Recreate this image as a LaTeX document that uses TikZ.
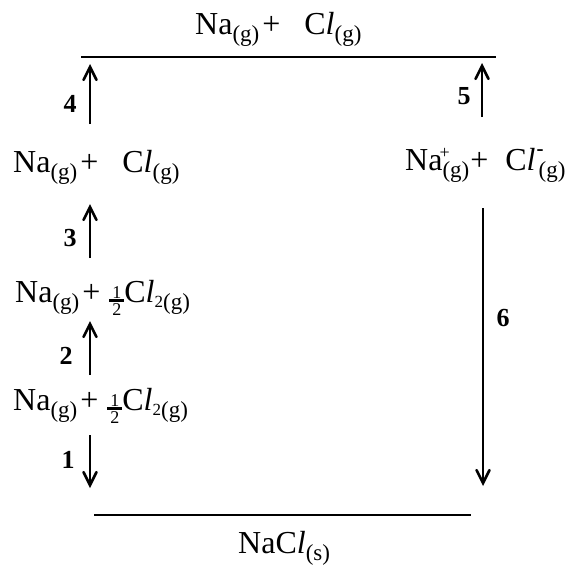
\documentclass[tikz,border=0pt]{standalone}
\usepackage{fontspec}
\setmainfont{Liberation Serif}
\usetikzlibrary{arrows.meta}
\newcommand\dn[1]{\raisebox{-7.5pt}{\fontsize{23}{23}\selectfont #1}}
\newcommand\smsub[1]{\raisebox{-5pt}{\fontsize{17}{17}\selectfont #1}}
\newcommand\hlf{\raisebox{-13pt}{\vbox{\offinterlineskip\hbox to 15pt{\hss\fontsize{18}{18}\selectfont 1\hss}\kern1pt\hrule height 2.2pt\kern1.5pt\hbox to 15pt{\hss\fontsize{18}{18}\selectfont 2\hss}}}}
\newcommand\supplus{\rlap{\kern-3pt\raisebox{12pt}{\fontsize{18}{18}\selectfont +}}}
\newcommand\supminus{\rlap{\raisebox{15pt}{\fontsize{21}{21}\selectfont\bfseries -}}}
\begin{document}
\begin{tikzpicture}[x=1pt,y=-1pt,
  chem/.style={inner sep=0pt,anchor=base west,font=\fontsize{32}{32}\selectfont},
  num/.style={inner sep=0pt,font=\fontsize{26}{26}\selectfont\bfseries},
  level/.style={line width=2.8pt},
  step arrow/.style={line width=2.6pt,-{Straight Barb[length=13pt,width=13pt,line cap=round]}}]
\useasboundingbox (0,0) rectangle (570,565);
% levels
\coordinate (tl) at (81,57);
\coordinate (tr) at (496,57);
\coordinate (bl) at (94,515);
\coordinate (br) at (471,515);
\draw[level] (tl) -- (tr);
\draw[level,line width=2.5pt] (bl) -- (br);
% texts
\node[chem] (top) at (195,34) {Na\dn{(g)}\kern3pt+\kern24pt C\textit{l}\dn{(g)}};
\node[chem] (r2) at (13,172) {Na\dn{(g)}\kern3pt+\kern24pt C\textit{l}\dn{(g)}};
\node[chem] (r3) at (15,302) {Na\dn{(g)}\kern3pt+\kern9pt\hlf C\textit{l}\smsub{2}\dn{(g)}};
\node[chem] (r4) at (13,410) {Na\dn{(g)}\kern3pt+\kern9pt\hlf C\textit{l}\smsub{2}\dn{(g)}};
\node[chem] (rr) at (405,170) {Na\supplus\dn{(g)}\kern1pt+\kern17pt C\textit{l}\kern1pt\supminus\kern2pt\dn{(g)}};
\node[chem] (bot) at (238,553) {NaC\textit{l}\dn{(s)}};
% arrows
\coordinate (a4s) at (90,124); \coordinate (a4e) at (90,64);
\coordinate (a3s) at (90,258); \coordinate (a3e) at (90,204);
\coordinate (a2s) at (90,375); \coordinate (a2e) at (90,321);
\coordinate (a1s) at (90,435); \coordinate (a1e) at (90,488);
\coordinate (a5s) at (482,117); \coordinate (a5e) at (482,63);
\coordinate (a6s) at (483,208); \coordinate (a6e) at (483,486);
\draw[step arrow] (a4s) -- (a4e);
\draw[step arrow] (a3s) -- (a3e);
\draw[step arrow] (a2s) -- (a2e);
\draw[step arrow] (a1s) -- (a1e);
\draw[step arrow] (a5s) -- (a5e);
\draw[step arrow] (a6s) -- (a6e);
% labels
\node[num] (n4) at (70,104) {4};
\node[num] (n3) at (70,238) {3};
\node[num] (n2) at (66,356) {2};
\node[num] (n1) at (68,460) {1};
\node[num] (n5) at (464,96) {5};
\node[num] (n6) at (503,318) {6};
\end{tikzpicture}
\end{document}
